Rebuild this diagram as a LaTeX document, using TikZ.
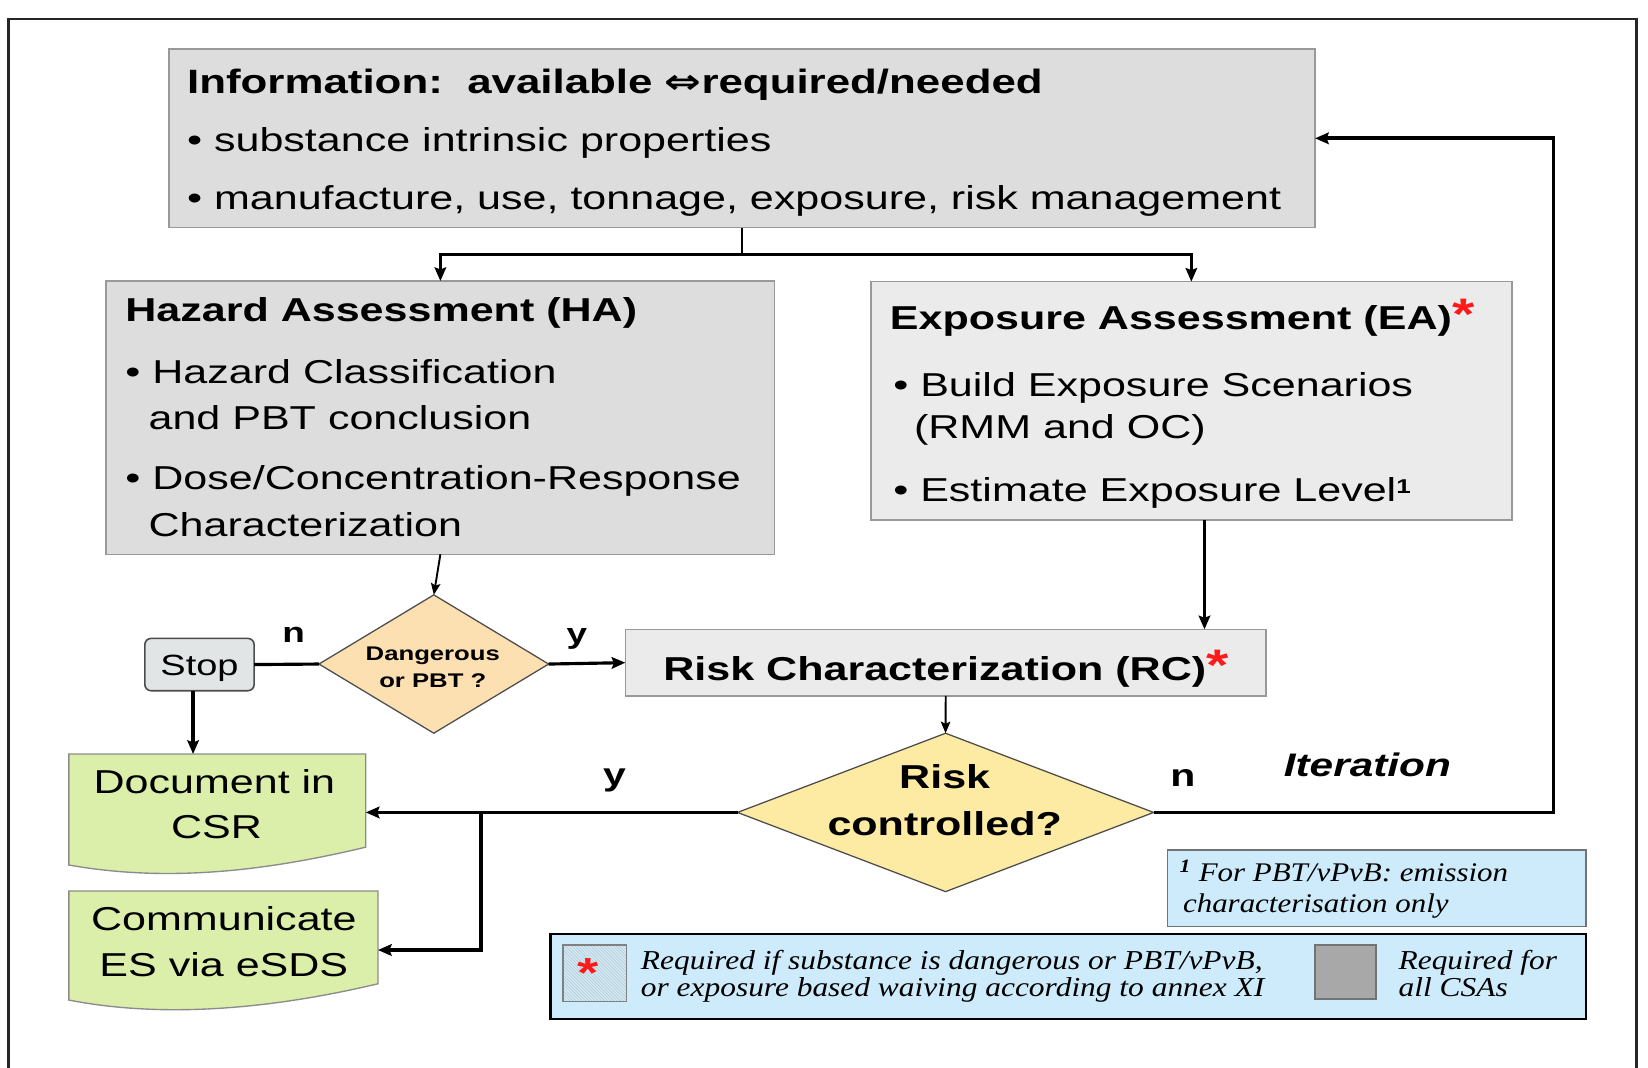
\documentclass[tikz,border=0pt]{standalone}
\usepackage{fontspec}
\setmainfont{Liberation Sans}[FakeStretch=1.3]
\newfontfamily\arrowfont{DejaVu Sans}[FakeStretch=1.3]
\newfontfamily\footserif{Liberation Serif}[FakeStretch=1.15]
\usetikzlibrary{arrows.meta,shapes.geometric,patterns}
\definecolor{boxgray}{HTML}{DDDDDD}
\definecolor{boxline}{HTML}{999999}
\definecolor{dotgray}{HTML}{EBEBEB}
\definecolor{peach}{HTML}{FCE0B2}
\definecolor{yellowd}{HTML}{FDEBA3}
\definecolor{docgreen}{HTML}{DCEFAA}
\definecolor{docline}{HTML}{8C8C8C}
\definecolor{bluebg}{HTML}{CDEBFA}
\definecolor{legendgray}{HTML}{A8A8A8}
\definecolor{stopgray}{HTML}{E2E5E5}
\definecolor{starred}{HTML}{FF1A1A}
\newcommand\szTitle{\fontsize{32.1}{38}\selectfont\bfseries}
\newcommand\szHead{\fontsize{31.5}{38}\selectfont\bfseries}
\newcommand\szBody{\fontsize{31.5}{38}\selectfont}
\newcommand\szLab{\fontsize{27}{32}\selectfont\bfseries}
\newcommand\szLabB{\fontsize{30}{34}\selectfont\bfseries}
\newcommand\szLeg{\footserif\itshape\fontsize{26}{30}\selectfont}
\newcommand\szFoot{\footserif\itshape\fontsize{25.6}{29}\selectfont}
\newcommand\redstar{{\fontsize{42}{42}\selectfont\bfseries\textcolor{starred}{*}}}
\begin{document}
\begin{tikzpicture}[x=1pt,y=-1pt,
  plainbox/.style={rectangle, draw=boxline, line width=1.5pt, inner sep=0pt, outer sep=0pt},
  decide/.style={diamond, draw=black!70, line width=1.2pt, inner sep=0pt, outer sep=0pt},
  t/.style={anchor=base west, inner sep=0pt, outer sep=0pt, text=black},
  tc/.style={anchor=base, inner sep=0pt, outer sep=0pt, text=black},
  conn/.style={draw=black, line width=3.2pt},
  arr/.style={conn, -{Stealth[length=13pt,width=11pt,inset=2pt]}},
  arrthin/.style={draw=black, line width=1.8pt, -{Stealth[length=11pt,width=9pt,inset=2pt]}}]
\useasboundingbox (0,0) rectangle (1568,1016);
\fill[white] (0,0) rectangle (1568,1016);
% outer frame
\draw[black!85, line width=2.5pt] (8,1016) -- (8,18) -- (1557,18) -- (1557,1016);

% boxes
\node[plainbox, fill=boxgray, minimum width=1090.2pt, minimum height=170pt] (info) at (706.1,131.6) {};
\node[plainbox, fill=boxgray, minimum width=636pt, minimum height=260pt] (ha) at (419,397.4) {};
\node[plainbox, fill=dotgray, minimum width=610pt, minimum height=226.8pt] (ea) at (1133.5,381.4) {};
\node[plainbox, fill=dotgray, minimum width=609.6pt, minimum height=63.4pt] (rc) at (899.8,630.5) {};
\node[rectangle, rounded corners=6pt, draw=black!70, line width=1.5pt, fill=stopgray, inner sep=0pt, outer sep=0pt, minimum width=104pt, minimum height=49.8pt] (stop) at (189.8,632.3) {};
\node[decide, fill=peach, minimum width=218.5pt, minimum height=131.6pt] (d1) at (412.75,631.8) {};
\node[decide, fill=yellowd, minimum width=395.9pt, minimum height=150.7pt] (d2) at (899.65,773) {};
% document shapes
\filldraw[fill=docgreen, draw=docline, line width=1.3pt] (65.5,717.4) -- (348,717.4) -- (348,806) .. controls (240,832) and (150,838) .. (65.5,823) -- cycle;
\filldraw[fill=docgreen, draw=docline, line width=1.3pt] (65.5,847.8) -- (359.6,847.8) -- (359.6,936) .. controls (250,962) and (150,968) .. (65.5,951.5) -- cycle;
\node[rectangle, inner sep=0pt, outer sep=0pt, minimum width=282.5pt, minimum height=89.6pt] (doc1) at (206.75,762.2) {};
\node[rectangle, inner sep=0pt, outer sep=0pt, minimum width=294.1pt, minimum height=89.2pt] (doc2) at (212.55,892.4) {};
% notes
\node[plainbox, draw=black!55, fill=bluebg, minimum width=398.2pt, minimum height=73pt] (foot) at (1309.9,845.2) {};
\node[rectangle, draw=black, line width=2.5pt, fill=bluebg, inner sep=0pt, outer sep=0pt, minimum width=985.1pt, minimum height=80.9pt] (legend) at (1016.45,929.15) {};
\node[rectangle, draw=black!50, line width=1.5pt, fill=white, pattern=north west lines, pattern color=black!25, inner sep=0pt, minimum width=60.3pt, minimum height=54pt] (hatch) at (565.75,926) {};
\node[rectangle, draw=black!55, line width=1.5pt, fill=legendgray, inner sep=0pt, minimum width=58pt, minimum height=51.5pt] (graysq) at (1280,924.75) {};

% connectors
\coordinate (split) at (706.1,241.9);
\draw[conn, line width=2.5pt] (info.south) -- (split);
\draw[arr, line width=2.5pt] (split) -| (ha.north);
\draw[arr, line width=2.5pt] (split) -| (ea.north);
\draw[arrthin] (ha.south) -- (d1.north);
\draw[conn, line width=3pt] (stop.east) -- (d1.west);
\draw[arr, line width=3pt] (d1.east) -- (rc.west);
\coordinate (eax) at (1146,0);
\draw[arr, line width=3.5pt] (ea.south -| eax) -- (rc.north -| eax);
\draw[arrthin] (rc.south) -- (d2.north);
\draw[arr, line width=3.6pt] (d2.west) -- (d2.west -| doc1.east);
\coordinate (jx) at (457.7,0);
\coordinate (cy) at (0,903.9);
\draw[arr, line width=3.2pt] (d2.west -| jx) |- (doc2.east |- cy);
\coordinate (sx) at (183.7,0);
\draw[arr, line width=3.2pt] (stop.south -| sx) -- (doc1.north -| sx);
\coordinate (loop) at (1478,131.6);
\draw[arr, line width=3.5pt] (d2.east) -| (loop) -- (info.east |- loop);

% texts: information
\node[t, font=\szTitle] (infoT) at (178,88.8) {Information:\ \ available {\arrowfont ⇔}required/needed};
\node[t, font=\szBody] (infoA) at (178,144.3) {• substance intrinsic properties};
\node[t, font=\szBody] (infoB) at (178,199.8) {• manufacture, use, tonnage, exposure, risk management};
% hazard assessment
\node[t, font=\szHead] (haT) at (119.3,306) {Hazard Assessment (HA)};
\node[t, font=\szBody] (haA) at (119.3,364.7) {• Hazard Classification};
\node[t, font=\szBody] (haA2) at (141.4,409.1) {and PBT conclusion};
\node[t, font=\szBody] (haB) at (119.3,465.3) {• Dose/Concentration-Response};
\node[t, font=\szBody] (haB2) at (141.4,510.6) {Characterization};
% exposure assessment
\node[t, font=\szHead] (eaT) at (846.7,313.4) {Exposure Assessment (EA)\redstar};
\node[t, font=\szBody] (eaA) at (849.9,376.8) {• Build Exposure Scenarios};
\node[t, font=\szBody] (eaA2) at (869.7,417) {(RMM and OC)};
\node[t, font=\szBody] (eaB) at (849.9,477.3) {• Estimate Exposure Level\raisebox{8pt}{\fontsize{19}{19}\selectfont\bfseries 1}};
% risk characterization
\node[t, font=\szHead] (rcT) at (631.2,647) {Risk Characterization (RC)\redstar};
% stop and decisions
\node[tc, font=\fontsize{27.8}{32}\selectfont] (stopT) at (189.8,642.3) {Stop};
\node[tc, font=\fontsize{18.8}{22}\selectfont\bfseries] (d1T) at (411.8,628.9) {Dangerous};
\node[tc, font=\fontsize{18.8}{22}\selectfont\bfseries] (d1T2) at (411.8,654) {or PBT ?};
\node[tc, font=\szHead] (d2T) at (898.8,750) {Risk};
\node[tc, font=\szHead] (d2T2) at (898.8,795.4) {controlled?};
% documents
\node[tc, font=\szBody] (doc1T) at (204,754.8) {Document in};
\node[tc, font=\szBody] (doc1T2) at (206,797.6) {CSR};
\node[tc, font=\szBody] (doc2T) at (213,884.9) {Communicate};
\node[tc, font=\szBody] (doc2T2) at (213,929.3) {ES via eSDS};
% labels
\node[tc, font=\szLab] (ln1) at (279.5,611.5) {n};
\node[tc, font=\szLab] (ly1) at (548.8,612) {y};
\node[tc, font=\szLabB] (ly2) at (584.8,747) {y};
\node[tc, font=\szLabB] (ln2) at (1125.5,748.5) {n};
\node[tc, font=\fontsize{31}{36}\selectfont\bfseries\itshape] (iter) at (1301,738.4) {Iteration};
% footnote
\node[t, font=\szFoot] (footA) at (1122.4,839) {\textsuperscript{\bfseries 1} For PBT/vPvB: emission};
\node[t, font=\szFoot] (footB) at (1125.6,868) {characterisation only};
% legend
\node[tc, font=\fontsize{40}{40}\selectfont\bfseries, text=starred] (legstar) at (560,940) {*};
\node[t, font=\szLeg] (legA) at (609.8,922) {Required if substance is dangerous or PBT/vPvB,};
\node[t, font=\szLeg] (legA2) at (609.8,948) {or exposure based waiving according to annex XI};
\node[t, font=\szLeg] (legB) at (1330.7,922) {Required for};
\node[t, font=\szLeg] (legB2) at (1330.7,948) {all CSAs};
\end{tikzpicture}
\end{document}
